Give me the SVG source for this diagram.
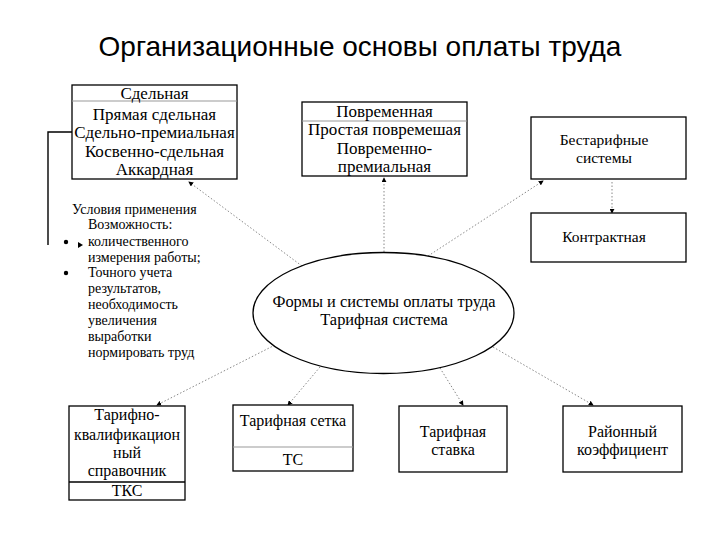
<svg xmlns="http://www.w3.org/2000/svg" width="720" height="540" viewBox="0 0 720 540">
<defs>
<style>
.box{fill:#fff;stroke:#000;stroke-width:1.3}
.div{stroke:#999;stroke-width:1}
.divb{stroke:#000;stroke-width:1.3}
.t{font-family:"Liberation Serif","Times New Roman",serif;font-size:16px;fill:#000;text-anchor:middle}
.tl{font-family:"Liberation Serif","Times New Roman",serif;font-size:17px;fill:#000;text-anchor:middle}
.ts{font-family:"Liberation Serif","Times New Roman",serif;font-size:14px;fill:#000}
.title{font-family:"Liberation Sans",Arial,sans-serif;font-size:28px;fill:#000;text-anchor:middle}
.con{fill:none;stroke:#888;stroke-width:1;stroke-dasharray:1.5 2}
.br{fill:none;stroke:#000;stroke-width:1.4}
</style>
<marker id="ah" viewBox="0 0 6 6" refX="5" refY="3" markerWidth="5" markerHeight="5" orient="auto" markerUnits="userSpaceOnUse">
<path d="M0,0 L6,3 L0,6 z" fill="#000"/>
</marker>
</defs>
<rect width="720" height="540" fill="#fff"/>
<text class="title" x="360" y="56">Организационные основы оплаты труда</text>

<g id="connectors">
<path class="br" d="M72,132 H48 V245"/>
<path d="M78,242 L83,245 L78,248 z" fill="#000"/>
<line class="con" x1="302" y1="266" x2="189" y2="182" marker-end="url(#ah)"/>
<line class="con" x1="384" y1="252" x2="384" y2="178" marker-end="url(#ah)"/>
<line class="con" x1="428" y1="256" x2="543" y2="181" marker-end="url(#ah)"/>
<line class="con" x1="612" y1="182" x2="612" y2="213" marker-end="url(#ah)"/>
<line class="con" x1="275" y1="345" x2="157" y2="405" marker-end="url(#ah)"/>
<line class="con" x1="320" y1="367" x2="288" y2="405" marker-end="url(#ah)"/>
<line class="con" x1="440" y1="368" x2="463" y2="405" marker-end="url(#ah)"/>
<line class="con" x1="493" y1="347" x2="593" y2="405" marker-end="url(#ah)"/>
</g>

<g id="sdelnaya">
<rect class="box" x="72" y="85" width="165" height="94"/>
<line class="div" x1="72" y1="101" x2="237" y2="101"/>
<text class="tl" x="154.5" y="99">Сдельная</text>
<text class="tl" x="154.5" y="120">Прямая сдельная</text>
<text class="tl" x="154.5" y="138">Сдельно-премиальная</text>
<text class="tl" x="154.5" y="157">Косвенно-сдельная</text>
<text class="tl" x="154.5" y="175">Аккардная</text>
</g>

<g id="povremennaya">
<rect class="box" x="302" y="102" width="165" height="74"/>
<line class="div" x1="302" y1="121" x2="467" y2="121"/>
<text class="tl" x="384.5" y="116.5">Повременная</text>
<text class="tl" x="384.5" y="135">Простая повремешая</text>
<text class="tl" x="384.5" y="153.5">Повременно-</text>
<text class="tl" x="384.5" y="172">премиальная</text>
</g>

<g id="bestarifnye">
<rect class="box" x="531" y="117" width="155" height="62"/>
<text class="t" x="604" y="145" style="font-size:15.5px">Бестарифные</text>
<text class="t" x="604" y="163" style="font-size:15.5px">системы</text>
</g>

<g id="kontraktnaya">
<rect class="box" x="531" y="213" width="155" height="49"/>
<text class="t" x="604" y="242" style="font-size:15.5px">Контрактная</text>
</g>

<g id="usloviya">
<text class="ts" x="72" y="214">Условия применения</text>
<text class="ts" x="88" y="229">Возможность:</text>
<circle cx="66" cy="242" r="2.2" fill="#000"/>
<text class="ts" x="88" y="246">количественного</text>
<text class="ts" x="88" y="262">измерения работы;</text>
<circle cx="66" cy="273" r="2.2" fill="#000"/>
<text class="ts" x="88" y="277">Точного учета</text>
<text class="ts" x="88" y="293">результатов,</text>
<text class="ts" x="88" y="309">необходимость</text>
<text class="ts" x="88" y="325">увеличения</text>
<text class="ts" x="88" y="341">выработки</text>
<text class="ts" x="88" y="357">нормировать труд</text>
</g>

<g id="center">
<ellipse cx="383.5" cy="313" rx="130.5" ry="60.5" fill="#fff" stroke="#000" stroke-width="1.3"/>
<text class="t" x="384" y="307" style="font-size:16.4px">Формы и системы оплаты труда</text>
<text class="t" x="384" y="325" style="font-size:16.4px">Тарифная система</text>
</g>

<g id="tks">
<rect class="box" x="69" y="406" width="116" height="94"/>
<line class="divb" x1="69" y1="482" x2="185" y2="482"/>
<text class="t" x="127" y="420">Тарифно-</text>
<text class="t" x="127" y="440">квалификацион</text>
<text class="t" x="127" y="458">ный</text>
<text class="t" x="127" y="476">справочник</text>
<text class="t" x="127" y="496">ТКС</text>
</g>

<g id="setka">
<rect class="box" x="233" y="405" width="120" height="66"/>
<line class="div" x1="233" y1="447" x2="353" y2="447"/>
<text class="t" x="293" y="426">Тарифная сетка</text>
<text class="t" x="293" y="465">ТС</text>
</g>

<g id="stavka">
<rect class="box" x="399" y="406" width="108" height="66"/>
<text class="t" x="453" y="437">Тарифная</text>
<text class="t" x="453" y="455">ставка</text>
</g>

<g id="rayonny">
<rect class="box" x="563" y="406" width="119" height="66"/>
<text class="t" x="622.5" y="437">Районный</text>
<text class="t" x="622.5" y="455">коэффициент</text>
</g>
</svg>
